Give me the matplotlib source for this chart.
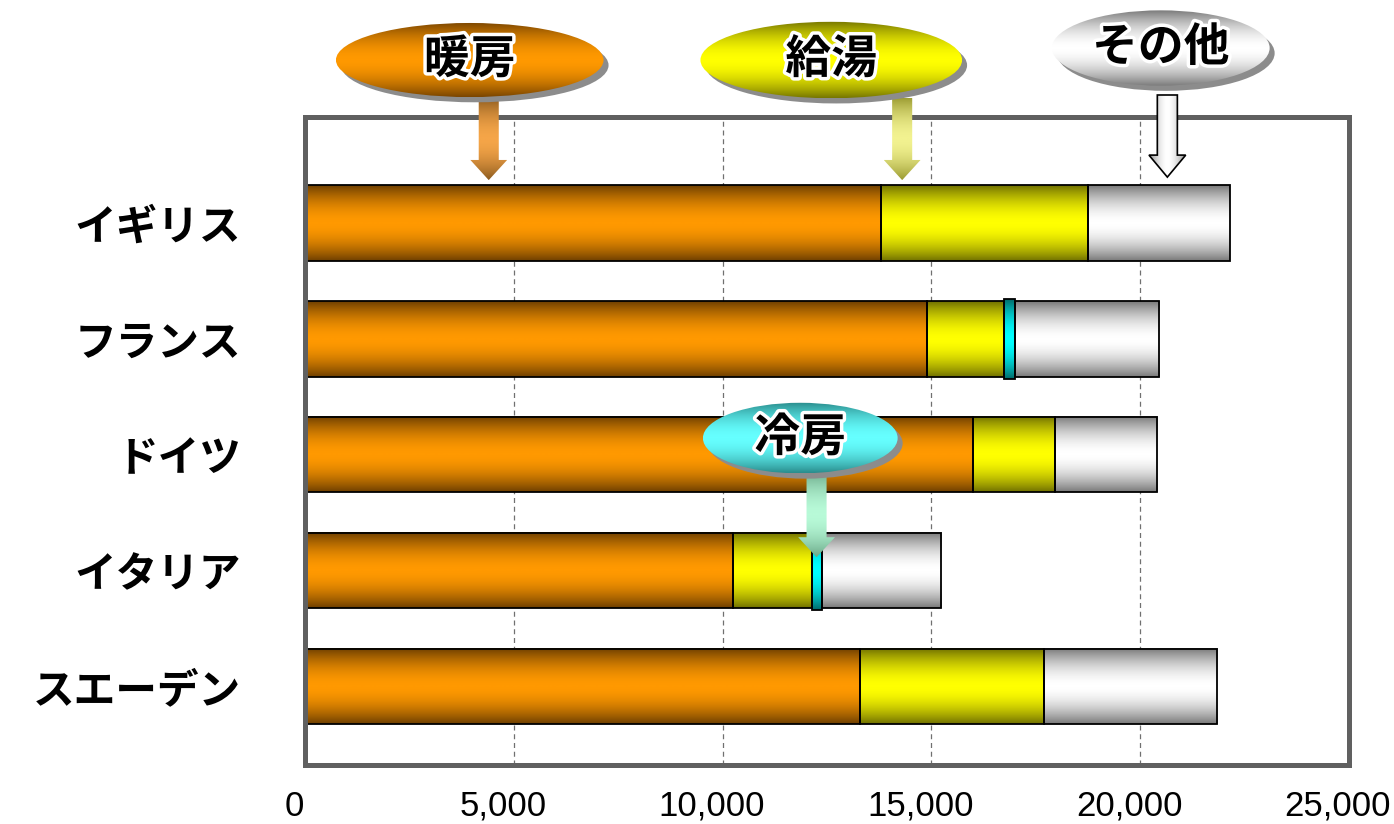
import numpy as np
import matplotlib
matplotlib.use('Agg')
import matplotlib.pyplot as plt
from matplotlib.colors import LinearSegmentedColormap
from matplotlib.patches import Ellipse, Polygon
from matplotlib.transforms import ScaledTranslation
import matplotlib.patheffects as pe

plt.rcParams['font.family'] = ['Noto Sans CJK JP', 'DejaVu Sans']

# data
countries = ['イギリス', 'フランス', 'ドイツ', 'イタリア', 'スエーデン']
heating = [13800, 14900, 16000, 10250, 13300]
hot_water = [4950, 1850, 1950, 1900, 4400]
cooling = [0, 250, 0, 220, 0]
other = [3400, 3450, 2450, 2850, 4150]
xticks = [0, 5000, 10000, 15000, 20000, 25000]

fig = plt.figure(figsize=(13.94, 8.24), dpi=100)
ax = fig.add_axes([305 / 1394, 1 - 765 / 824, 1044 / 1394, 648 / 824])

t = np.linspace(0, 1, 256)
prof = (1 - np.abs(2 * t - 1) ** 1.8)[:, None]


def cmap(c1, c2):
    return LinearSegmentedColormap.from_list('g', [c1, c2])


def fill_grad(patch, cm, horizontal=False, z=2):
    # paint a shaded gradient inside a patch
    ext = patch.get_extents().transformed(ax.transData.inverted())
    g = prof.T if horizontal else prof
    im = ax.imshow(g, cmap=cm, vmin=0, vmax=1, aspect='auto', interpolation='bilinear',
                   extent=(ext.x0, ext.x1, ext.y1, ext.y0), zorder=z)
    im.set_clip_path(patch)
    im.set_clip_box(fig.bbox)
    return im


ax.set_xlim(0, 25000)
ax.set_ylim(4.68, -0.916)
ax.set_autoscale_on(False)

y = np.arange(len(countries))
h = 0.65
series = [
    (heating, cmap('#6e3f00', '#ff9900'), 0),
    (hot_water, cmap('#707000', '#ffff00'), 0),
    (cooling, cmap('#006a6a', '#00ffff'), 0.04),
    (other, cmap('#787878', '#ffffff'), 0),
]
left = np.zeros(len(countries))
for vals, cm, extra in series:
    vals = np.array(vals, dtype=float)
    bars = ax.barh(y, vals, left=left, height=h + extra, facecolor='none',
                   edgecolor='black', linewidth=1.3, zorder=2.5)
    for p, v in zip(bars, vals):
        if v <= 0:
            p.set_visible(False)
            continue
        fill_grad(p, cm, z=2)
    left = left + vals

# axes styling
ax.set_xticks(xticks)
ax.set_xticklabels([f'{v:,}' for v in xticks], fontsize=25, family='Liberation Sans')
ax.set_yticks(y)
ax.set_yticklabels(countries, fontsize=30, fontweight='bold')
ax.tick_params(axis='x', length=0, pad=18)
ax.tick_params(axis='y', length=0, pad=46)
shift = ScaledTranslation(-8 / 72, 0, fig.dpi_scale_trans)
for lab in ax.get_xticklabels():
    lab.set_transform(lab.get_transform() + shift)
ax.xaxis.grid(True, linestyle=(0, (4, 3)), color='#707070', linewidth=0.9)
ax.set_axisbelow(True)
for s in ax.spines.values():
    s.set_color('#606060')
    s.set_linewidth(3.6)

# callouts: label, ellipse (cx, cy, w, h), arrow (x, top, head, tip), colours
callouts = [
    ('暖房', (3945, -1.408, 6408, 0.64), (4400, -1.08, -0.545, -0.371),
     cmap('#7a4500', '#ff9900'), cmap('#8b5a1e', '#f5a548'), None, False),
    ('給湯', (12602, -1.408, 6265, 0.66), (14300, -1.08, -0.545, -0.371),
     cmap('#767600', '#ffff00'), cmap('#9a9a30', '#f2f290'), None, False),
    ('その他', (20493, -1.512, 5213, 0.65), (20650, -1.106, -0.587, -0.397),
     cmap('#7a7a7a', '#ffffff'), cmap('#8a8a8a', '#ffffff'), 'black', True),
    ('冷房', (11860, 1.857, 4663, 0.61), (12250, 2.151, 2.713, 2.886),
     cmap('#2a8c8c', '#66ffff'), cmap('#6aa888', '#b8fad8'), None, False),
]
dx, dy = 120, 0.045
shw, hhw = 240, 440
for label, (cx, cy, w, eh), (axx, top, head, tip), ecm, acm, aedge, horiz in callouts:
    verts = [(axx - shw, top), (axx + shw, top), (axx + shw, head), (axx + hhw, head),
             (axx, tip), (axx - hhw, head), (axx - shw, head)]
    arr = Polygon(verts, closed=True, facecolor='none',
                  edgecolor=aedge if aedge else 'none', linewidth=1.2,
                  zorder=3.5, clip_on=False)
    ax.add_patch(arr)
    fill_grad(arr, acm, horizontal=horiz, z=3)

    sh = Ellipse((cx + dx, cy + dy), w, eh, facecolor='#8c8c8c', edgecolor='none',
                 zorder=4, clip_on=False)
    ax.add_patch(sh)
    ell = Ellipse((cx, cy), w, eh, facecolor='none', edgecolor='none',
                  zorder=4.2, clip_on=False)
    ax.add_patch(ell)
    fill_grad(ell, ecm, z=4.1)
    ax.text(cx, cy, label, ha='center', va='center', fontsize=33, fontweight='bold',
            color='black', zorder=5, clip_on=False,
            path_effects=[pe.Stroke(linewidth=5, foreground='white'), pe.Normal()])

fig.savefig('out.png', dpi=100)
